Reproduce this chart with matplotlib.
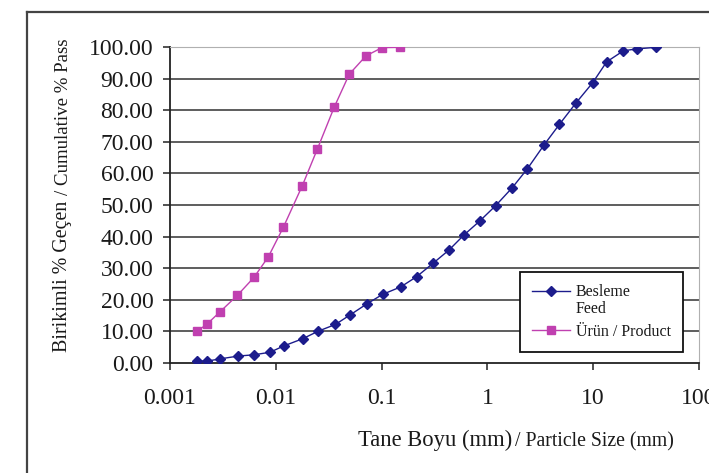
import numpy as np
import matplotlib
matplotlib.use("Agg")
import matplotlib.pyplot as plt
from matplotlib.lines import Line2D
from matplotlib.legend_handler import HandlerLine2D

# --- data (log x axis, mm) ---
feed_size = [0.00179, 0.00225, 0.00297, 0.00442, 0.00625, 0.0088, 0.0119, 0.018,
             0.0253, 0.0366, 0.0503, 0.0725, 0.102, 0.152, 0.214, 0.3075, 0.435,
             0.60, 0.851, 1.197, 1.72, 2.38, 3.43, 4.79, 6.84, 9.89, 13.4, 19.3,
             25.8, 39.2]
feed_pass = [0.6, 0.6, 1.3, 2.2, 2.6, 3.4, 5.4, 7.7, 10.1, 12.2, 15.2, 18.7, 21.7,
             24.1, 27.3, 31.6, 35.8, 40.5, 45.0, 49.8, 55.5, 61.4, 69.0, 75.5,
             82.2, 88.7, 95.3, 98.8, 99.4, 99.9]

prod_size = [0.00179, 0.00222, 0.00297, 0.00433, 0.00622, 0.0085, 0.0118, 0.0178,
             0.0247, 0.0357, 0.0495, 0.0712, 0.101, 0.149]
prod_pass = [10.0, 12.2, 16.2, 21.4, 27.1, 33.6, 43.0, 56.1, 67.7, 81.0, 91.4,
             97.2, 99.8, 99.9]

y_ticks = [0, 10, 20, 30, 40, 50, 60, 70, 80, 90, 100]
x_ticks = [0.001, 0.01, 0.1, 1, 10, 100]
x_ticklabels = ["0.001", "0.01", "0.1", "1", "10", "100"]

FEED_COLOR = "#1c1c8c"
PROD_COLOR = "#c040b0"
TEXT_COLOR = "#1a1a1a"

plt.rcParams["font.family"] = "Liberation Serif"


# legend handle of a two-line label sits on the first line (Excel style)
class FirstLineHandler(HandlerLine2D):
    def __init__(self, shift, **kw):
        super().__init__(**kw)
        self.shift = shift

    def create_artists(self, legend, orig_handle, xdescent, ydescent, width,
                       height, fontsize, trans):
        arts = super().create_artists(legend, orig_handle, xdescent, ydescent,
                                      width, height, fontsize, trans)
        for a in arts:
            a.set_ydata(np.asarray(a.get_ydata()) + self.shift * fontsize)
        return arts


W, H = 709, 473
fig = plt.figure(figsize=(W / 100, H / 100), dpi=100)
ax = fig.add_axes([170 / W, 1 - 363 / H, 529 / W, 316 / H])

feed_line, = ax.plot(feed_size, feed_pass, color=FEED_COLOR, lw=1.0, marker="D",
                     markersize=5.5, label="Besleme\nFeed", zorder=3)
ax.plot(prod_size, prod_pass, color=PROD_COLOR, lw=1.0, marker="s",
        markersize=5.5, label="Ürün / Product", zorder=3)

ax.set_xscale("log")
ax.set_xlim(0.001, 100)
ax.set_ylim(0, 100)
ax.set_xticks(x_ticks)
ax.set_xticklabels(x_ticklabels)
ax.xaxis.set_minor_locator(matplotlib.ticker.NullLocator())
ax.set_yticks(y_ticks)
ax.set_yticklabels([f"{v:.2f}" for v in y_ticks])

ax.tick_params(axis="y", direction="out", length=5, width=1.2, pad=7,
               labelsize=17, color="#333333", labelcolor=TEXT_COLOR)
ax.tick_params(axis="x", direction="out", length=5, width=1.2, pad=13,
               labelsize=17, color="#333333", labelcolor=TEXT_COLOR)

ax.yaxis.grid(True, color="#505050", lw=1.3)
for gl in ax.get_ygridlines()[::10]:
    gl.set_visible(False)
ax.set_axisbelow(True)

ax.spines["left"].set_color("#222222")
ax.spines["bottom"].set_color("#222222")
ax.spines["left"].set_linewidth(1.3)
ax.spines["bottom"].set_linewidth(1.3)
ax.spines["top"].set_color("#b0b0b0")
ax.spines["right"].set_color("#b0b0b0")

leg = ax.legend(loc="lower left", bbox_to_anchor=(0.6616, 0.0348),
                fontsize=11.5, frameon=True, fancybox=False, framealpha=1,
                edgecolor="#111111", handlelength=2.4, handletextpad=0.35,
                borderpad=0.75, labelspacing=0.45, borderaxespad=0,
                handler_map={feed_line: FirstLineHandler(0.6)})
leg.get_frame().set_linewidth(1.3)
for t in leg.get_texts():
    t.set_color(TEXT_COLOR)
    t.set_linespacing(1.05)

# outer frame of the original figure
fig.add_artist(Line2D([27 / W, 27 / W], [0, 1 - 12 / H], color="#444444", lw=1.6))
fig.add_artist(Line2D([27 / W, 1], [1 - 12 / H, 1 - 12 / H], color="#444444", lw=1.6))

# axis titles with two font sizes
fig.canvas.draw()
r = fig.canvas.get_renderer()

t1 = fig.text(63 / W, 1 - 352 / H, "Birikimli % Geçen", rotation=90,
              ha="center", va="bottom", fontsize=14.4, color=TEXT_COLOR)
bb = t1.get_window_extent(r)
fig.text(63 / W, (bb.y1 + 6) / H, "/ Cumulative % Pass", rotation=90,
         ha="center", va="bottom", fontsize=13.6, color=TEXT_COLOR)

t2 = fig.text(358 / W, 1 - 446 / H, "Tane Boyu (mm)", ha="left", va="baseline",
              fontsize=16.3, color=TEXT_COLOR)
bb = t2.get_window_extent(r)
fig.text((bb.x1 + 3) / W, 1 - 446 / H, "/ Particle Size (mm)", ha="left",
         va="baseline", fontsize=14.2, color=TEXT_COLOR)

fig.savefig("out.png", dpi=100)
